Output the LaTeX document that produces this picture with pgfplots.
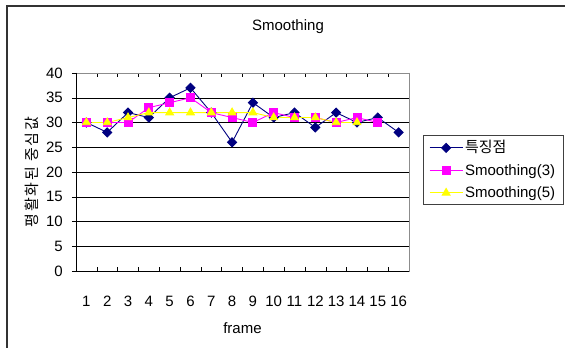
\documentclass[border=0pt]{standalone}
\usepackage{pgfplots}
\pgfplotsset{compat=1.18}
\usepackage{fontspec}
\setmainfont{Liberation Sans}
\newfontfamily\kr{Noto Sans CJK KR}
\definecolor{navy}{RGB}{0,0,128}
\definecolor{mag}{RGB}{255,0,255}
\definecolor{yel}{RGB}{255,255,0}
\begin{document}
\fontsize{15}{18}\selectfont
\begin{tikzpicture}[font=\fontsize{15}{18}\selectfont]
\useasboundingbox (0pt,0pt) rectangle (565pt,348pt);
\draw[line width=1.2pt, black!80] (7pt,-5pt) -- (7pt,342pt) -- (570pt,342pt);
\node at (288pt,321pt) {Smoothing};
\begin{axis}[
  at={(76pt,77pt)}, anchor=south west, scale only axis,
  width=333pt, height=198pt,
  /pgf/number format/assume math mode=true,
  xmin=0.5, xmax=16.5, ymin=0, ymax=40,
  xtick={1,...,16}, ytick={0,5,...,40},
  minor xtick={0.5,1.5,...,16.5},
  tick align=inside,
  major tick length=4pt, minor tick length=4pt,
  xtick style={draw=none},
  minor x tick style={draw=black, thin},
  ytick style={black, thin, xshift=-4pt},
  ymajorgrids, major grid style={black, thin},
  axis line style={black!45, thin},
  xticklabel style={anchor=base, yshift=-35pt, inner sep=0pt},
  yticklabel style={anchor=east, xshift=-13pt, inner sep=0pt},
  xlabel={frame},
  xlabel style={at={(axis description cs:0.5,-0.288)}, anchor=center},
  ylabel={\kr\addfontfeatures{LetterSpace=12}평활화된 중심값},
  ylabel style={at={(axis description cs:-0.132,0.5)}, anchor=center},
  every axis plot/.append style={line width=0.9pt},
  legend image code/.code={\draw[mark repeat=2,mark phase=2,#1] plot coordinates {(0pt,0pt) (16.5pt,0pt) (33pt,0pt)};},
  legend style={at={(1.042,0.685)}, anchor=north west, draw=black!75, thin,
    inner xsep=6pt, inner ysep=3pt, row sep=5pt,
    font=\fontsize{15}{18}\selectfont,
    /tikz/every even column/.style={column sep=2pt}},
  legend cell align=left,
  after end axis/.code={\draw[black, thin] (rel axis cs:0,1) -- (rel axis cs:0,0) -- (rel axis cs:1,0);},
]
\addplot[navy, mark=square*, mark size=3.2pt, mark options={fill=navy, rotate=45}] coordinates {
(1,30) (2,28) (3,32) (4,31) (5,35) (6,37) (7,32) (8,26) (9,34) (10,31) (11,32) (12,29) (13,32) (14,30) (15,31) (16,28)};
\addlegendentry{\kr 특징점}
\addplot[mag, mark=square*, mark size=4pt, mark options={fill=mag}] coordinates {
(1,30) (2,30) (3,30) (4,33) (5,34) (6,35) (7,32) (8,31) (9,30) (10,32) (11,31) (12,31) (13,30) (14,31) (15,30)};
\addlegendentry{Smoothing(3)}
\addplot[yel, mark=triangle*, mark size=4.5pt, mark options={fill=yel}] coordinates {
(1,30) (2,30) (3,31) (4,32) (5,32) (6,32) (7,32) (8,32) (9,32) (10,31) (11,31) (12,31) (13,30) (14,30)};
\addlegendentry{Smoothing(5)}
\end{axis}
\end{tikzpicture}
\end{document}
